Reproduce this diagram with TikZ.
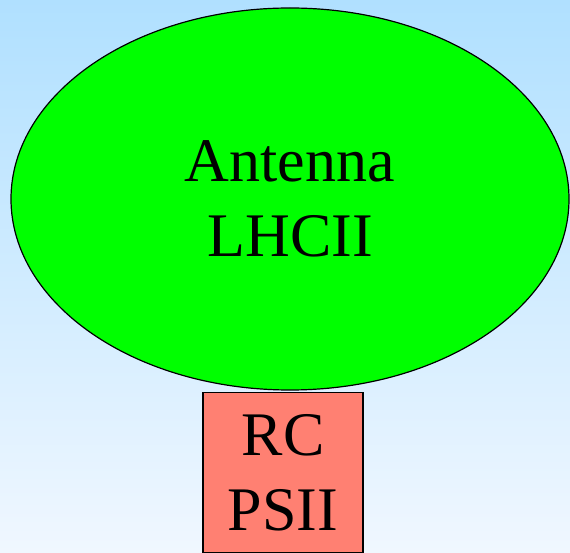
\documentclass[tikz,border=0pt]{standalone}
\usepackage{fontspec}
\setmainfont{Liberation Serif}
\usepackage{xcolor}
\usetikzlibrary{shapes.geometric}
\usetikzlibrary{positioning}
\definecolor{skytop}{RGB}{176,224,255}
\definecolor{skybot}{RGB}{240,247,255}
\definecolor{antgreen}{RGB}{0,255,0}
\definecolor{rcred}{RGB}{255,128,114}

\begin{document}
\begin{tikzpicture}[x=1pt, y=1pt,
    every node/.style={font=\rmfamily\fontsize{62}{75}\selectfont, align=center},
    antenna/.style={draw, ellipse, fill=antgreen, line width=1.2pt, inner sep=0pt, minimum width=558pt, minimum height=382pt},
    rcbox/.style={draw, rectangle, fill=rcred, line width=1.2pt, inner sep=0pt, minimum width=160pt, minimum height=160pt}]
        \shade[top color=skytop, bottom color=skybot] (0,0) rectangle (570,552);
        \useasboundingbox (0,0) rectangle (570,552);
        \node[antenna] (lhc) at (290,353) {Antenna\\LHCII};
        \node[rcbox, below=1.5pt of lhc, xshift=-7pt] (rc) {RC\\PSII};
\end{tikzpicture}
\end{document}
